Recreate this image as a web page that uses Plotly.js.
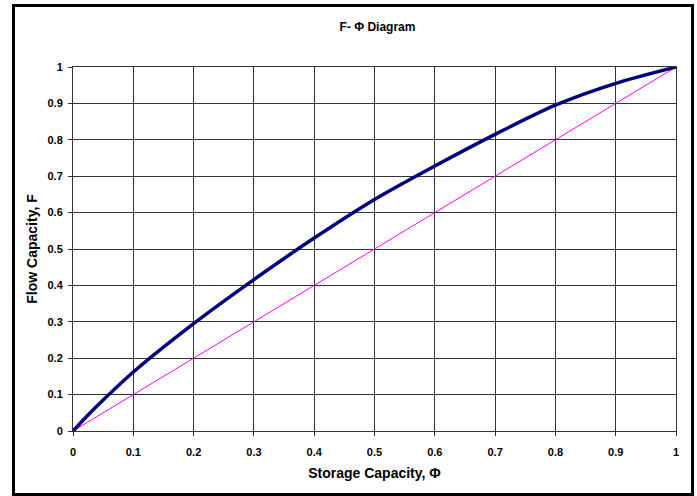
<!DOCTYPE html>
<html>
<head>
<meta charset="utf-8">
<script src="https://cdn.plot.ly/plotly-3.0.1.min.js"></script>
<style>
  html, body { margin: 0; padding: 0; background: #fff; }
  #wrap { position: relative; width: 697px; height: 496px; }
  #chart { position: absolute; left: 0; top: 0; width: 697px; height: 496px; }
  #frame { position: absolute; left: 12px; top: 4px; width: 676px; height: 486px; border: 3px solid #000; pointer-events: none; }
</style>
</head>
<body>
<div id="wrap">
  <div id="chart"></div>
  <div id="frame"></div>
</div>
<script>
// Storage capacity (Phi) and flow capacity (F)
const phi = [0, 0.025, 0.05, 0.1, 0.2, 0.3, 0.4, 0.5, 0.6, 0.7, 0.8, 0.9, 1];
const flowCap = [0, 0.044, 0.085, 0.162, 0.295, 0.416, 0.53, 0.636, 0.728, 0.815, 0.895, 0.955, 1];
// Homogeneous reference line
const diagX = [0, 1];
const diagY = [0, 1];

const titleText = 'F- Φ Diagram';
const xTitle = 'Storage Capacity, Φ';
const yTitle = 'Flow Capacity, F';

const font = 'Liberation Sans, Arial, sans-serif';

const traces = [
  {
    x: diagX, y: diagY, type: 'scatter', mode: 'lines',
    line: { color: '#FF00FF', width: 1 }, hoverinfo: 'skip', showlegend: false
  },
  {
    x: phi, y: flowCap, type: 'scatter', mode: 'lines',
    line: { color: '#000080', width: 3.5, shape: 'spline', smoothing: 0.8 },
    showlegend: false
  }
];

const axisCommon = {
  range: [0, 1],
  dtick: 0.1,
  tick0: 0,
  showgrid: true,
  gridcolor: '#333333',
  gridwidth: 1,
  zeroline: false,
  showline: true,
  linecolor: '#333333',
  linewidth: 1,
  mirror: true,
  ticks: 'outside',
  ticklen: 4,
  tickcolor: '#333333',
  tickfont: { family: font, size: 11, color: '#000', weight: 'bold' },
  fixedrange: true
};

const layout = {
  width: 697,
  height: 496,
  margin: { l: 73, r: 21, t: 67, b: 65 },
  paper_bgcolor: '#fff',
  plot_bgcolor: '#fff',
  title: {
    text: titleText,
    font: { family: font, size: 12, color: '#000', weight: 'bold' },
    x: 0.505, xref: 'paper', y: 1 - 27 / 496, yref: 'container',
    xanchor: 'center', yanchor: 'middle'
  },
  xaxis: Object.assign({}, axisCommon, {
    ticklabelstandoff: 7,
    title: { text: xTitle, font: { family: font, size: 14, color: '#000', weight: 'bold' }, standoff: 10 }
  }),
  yaxis: Object.assign({}, axisCommon, {
    ticklabelstandoff: 3,
    title: { text: yTitle, font: { family: font, size: 14, color: '#000', weight: 'bold' }, standoff: 6 }
  }),
  showlegend: false
};

Plotly.newPlot('chart', traces, layout, { displayModeBar: false, staticPlot: true });
</script>
</body>
</html>
